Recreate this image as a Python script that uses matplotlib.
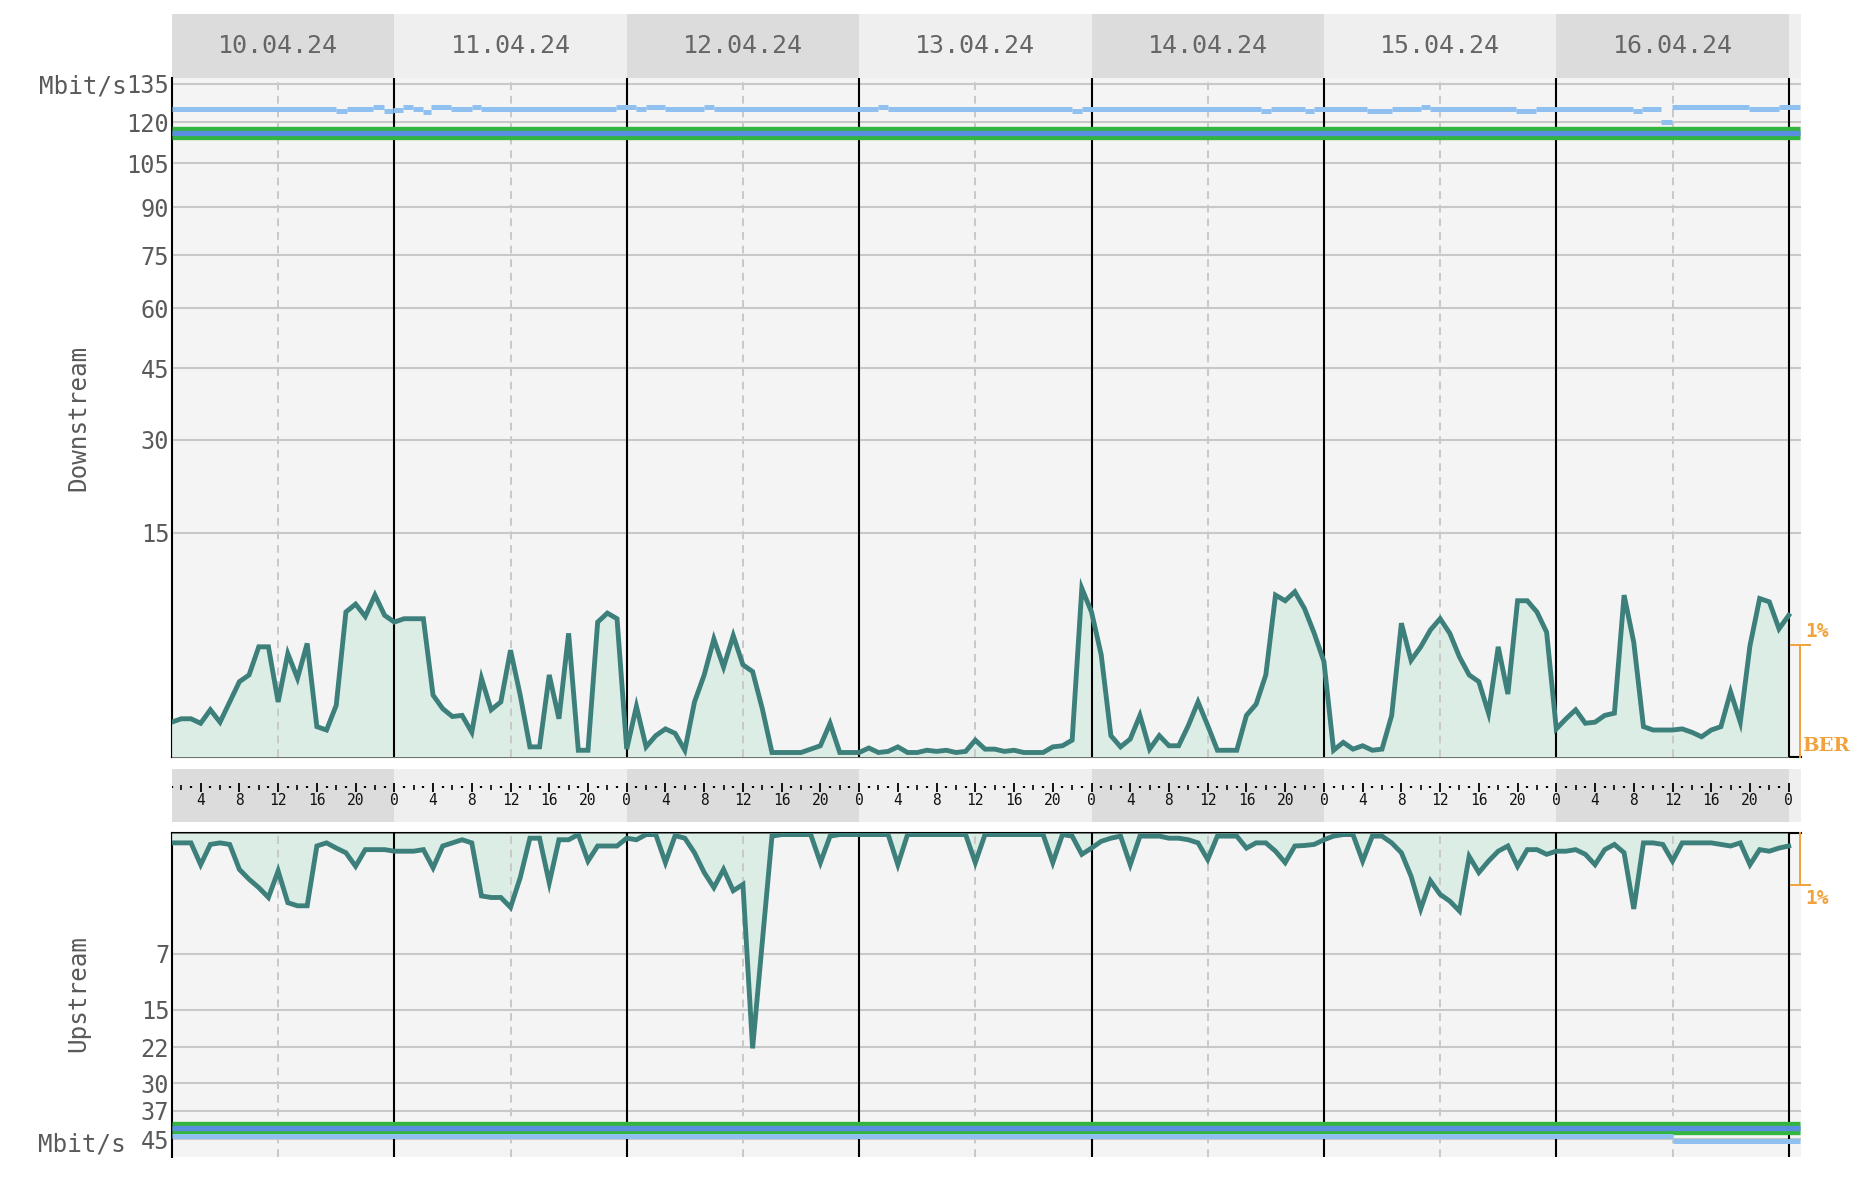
import numpy as np
import matplotlib
matplotlib.use("Agg")
import matplotlib.pyplot as plt
from matplotlib.transforms import blended_transform_factory

plt.rcParams['font.family'] = ['DejaVu Sans Mono']

# --- data --------------------------------------------------------------
days = ["10.04.24", "11.04.24", "12.04.24", "13.04.24", "14.04.24", "15.04.24", "16.04.24"]
hours = np.arange(1, 169)          # hourly samples, hour 0 = 10.04. 00:00

# downstream BER in % (one value per hour)
dn_ber_10 = [0.31, 0.34, 0.34, 0.30, 0.42, 0.31, 0.49, 0.67, 0.73, 0.98, 0.98, 0.49,
             0.92, 0.70, 1.01, 0.27, 0.24, 0.46, 1.29, 1.36, 1.25, 1.44, 1.26, 1.20]
dn_ber_11 = [1.23, 1.23, 1.23, 0.55, 0.43, 0.36, 0.37, 0.22, 0.70, 0.42, 0.49, 0.95,
             0.55, 0.09, 0.09, 0.73, 0.34, 1.10, 0.06, 0.06, 1.20, 1.28, 1.23, 0.07]
dn_ber_12 = [0.45, 0.09, 0.19, 0.25, 0.21, 0.06, 0.49, 0.73, 1.05, 0.80, 1.08, 0.82,
             0.76, 0.43, 0.04, 0.04, 0.04, 0.04, 0.07, 0.10, 0.30, 0.04, 0.04, 0.04]
dn_ber_13 = [0.08, 0.04, 0.05, 0.09, 0.04, 0.04, 0.06, 0.05, 0.06, 0.04, 0.05, 0.15,
             0.07, 0.07, 0.05, 0.06, 0.04, 0.04, 0.04, 0.09, 0.10, 0.15, 1.50, 1.29]
dn_ber_14 = [0.91, 0.19, 0.09, 0.16, 0.37, 0.07, 0.19, 0.10, 0.10, 0.28, 0.49, 0.28,
             0.06, 0.06, 0.06, 0.37, 0.47, 0.73, 1.44, 1.39, 1.47, 1.32, 1.10, 0.85]
dn_ber_15 = [0.06, 0.13, 0.07, 0.10, 0.06, 0.07, 0.37, 1.19, 0.86, 0.98, 1.13, 1.23,
             1.10, 0.89, 0.73, 0.67, 0.39, 0.98, 0.56, 1.39, 1.39, 1.29, 1.11, 0.25]
dn_ber_16 = [0.34, 0.42, 0.30, 0.31, 0.37, 0.39, 1.44, 1.02, 0.27, 0.24, 0.24, 0.24,
             0.25, 0.22, 0.18, 0.24, 0.27, 0.58, 0.31, 0.99, 1.41, 1.38, 1.14, 1.26]

# upstream BER in %
up_ber_10 = [0.19, 0.19, 0.19, 0.61, 0.22, 0.19, 0.22, 0.70, 0.89, 1.05, 1.24, 0.73,
             1.34, 1.40, 1.40, 0.25, 0.19, 0.29, 0.38, 0.64, 0.32, 0.32, 0.32, 0.35]
up_ber_11 = [0.35, 0.35, 0.32, 0.67, 0.25, 0.19, 0.13, 0.19, 1.21, 1.24, 1.24, 1.43,
             0.86, 0.10, 0.10, 0.96, 0.13, 0.13, 0.03, 0.54, 0.25, 0.25, 0.25, 0.10]
up_ber_12 = [0.13, 0.03, 0.03, 0.57, 0.05, 0.10, 0.38, 0.76, 1.05, 0.70, 1.11, 0.99,
             4.14, 2.10, 0.06, 0.03, 0.03, 0.03, 0.03, 0.57, 0.06, 0.03, 0.03, 0.03]
up_ber_13 = [0.03, 0.03, 0.03, 0.61, 0.03, 0.03, 0.03, 0.03, 0.03, 0.03, 0.03, 0.57,
             0.03, 0.03, 0.03, 0.03, 0.03, 0.03, 0.03, 0.57, 0.03, 0.06, 0.41, 0.29]
up_ber_14 = [0.16, 0.10, 0.06, 0.61, 0.06, 0.06, 0.06, 0.10, 0.10, 0.13, 0.19, 0.51,
             0.06, 0.06, 0.06, 0.29, 0.19, 0.19, 0.35, 0.57, 0.25, 0.24, 0.22, 0.13]
up_ber_15 = [0.06, 0.03, 0.03, 0.54, 0.06, 0.06, 0.19, 0.38, 0.83, 1.46, 0.92, 1.18,
             1.31, 1.50, 0.45, 0.76, 0.54, 0.35, 0.25, 0.64, 0.32, 0.32, 0.41, 0.35]
up_ber_16 = [0.35, 0.32, 0.41, 0.61, 0.32, 0.22, 0.38, 1.46, 0.19, 0.19, 0.22, 0.54,
             0.19, 0.19, 0.19, 0.19, 0.22, 0.25, 0.19, 0.61, 0.32, 0.35, 0.29, 0.25]

dn_ber = dn_ber_10 + dn_ber_11 + dn_ber_12 + dn_ber_13 + dn_ber_14 + dn_ber_15 + dn_ber_16
up_ber = up_ber_10 + up_ber_11 + up_ber_12 + up_ber_13 + up_ber_14 + up_ber_15 + up_ber_16

# rates in Mbit/s
dn_ticks = [15, 30, 45, 60, 75, 90, 105, 120, 135]
up_ticks = [7, 15, 22, 30, 37, 45]
rate_span = [1.0, 169.2]
dn_max_rate = 115.9
dn_sync_rate = 115.9
up_max_rate = 41.8
up_sync_rate = 41.8
# attainable rate (step changes: hour, value)
dn_att_t = [1, 18, 19.1, 21.8, 22.9, 23.9, 24.9, 25.9, 27, 27.8, 29.9, 32, 33, 46.9, 49, 50,
            52, 56, 57, 74, 75, 94, 95, 113.5, 114.5, 118, 119, 124.5, 127, 130, 131,
            139.8, 141.9, 151.9, 152.9, 154.8, 155.9, 163.9, 167]
dn_att_v = [125.1, 124.1, 125.0, 126.0, 124.1, 124.5, 126.0, 125.1, 124.0, 126.0, 125.1,
            126.0, 125.1, 126.0, 125.0, 126.0, 125.1, 126.0, 125.1, 126.0, 125.1, 124.2,
            125.1, 124.2, 125.1, 124.2, 125.1, 124.2, 125.1, 126.0, 125.1, 124.2, 125.1,
            124.2, 125.1, 120.0, 126.0, 125.1, 126.0]
up_att_t = [1, 156.0]
up_att_v = [44.0, 45.4]

# --- layout ------------------------------------------------------------
W, H = 1870, 1186


def rect(x0, y0, x1, y1):
    return [x0 / W, 1 - y1 / H, (x1 - x0) / W, (y1 - y0) / H]


X0, X1 = 172, 1801
XLIM = (1.04, 169.27)
LINE = '#3d7f7b'
FILL = '#dcede5'
GRID = '#c8c8c8'
ORANGE = '#f2a23c'
ATT = '#90c0f0'
DARK, LIGHT = '#dcdcdc', '#efefef'
TXT = '#5a5a5a'
sqrt_fn = (lambda v: np.sqrt(np.clip(v, 0, None)), lambda v: np.square(v))

fig = plt.figure(figsize=(W / 100, H / 100), dpi=100)

# header with dates
ax_hd = fig.add_axes(rect(X0, 14, X1, 78))
ax_hd.set_xlim(XLIM)
ax_hd.set_ylim(0, 1)
for i, d in enumerate(days):
    ax_hd.axvspan(i * 24, (i + 1) * 24, color=DARK if i % 2 == 0 else LIGHT, lw=0)
    ax_hd.text(i * 24 + 12, 0.5, d, ha='center', va='center', fontsize=18, color='#666666')
ax_hd.axvspan(168, 200, color=LIGHT, lw=0)
ax_hd.axis('off')


def style_rate_axis(ax, ticks):
    ax.set_facecolor('#f4f4f4')
    ax.set_xlim(XLIM)
    ax.set_yscale('function', functions=sqrt_fn)
    ax.set_yticks(ticks)
    ax.set_yticklabels([str(t) for t in ticks])
    ax.set_xticks([])
    ax.tick_params(axis='y', length=0, pad=2, labelsize=17, labelcolor=TXT)
    ax.yaxis.grid(True, color=GRID, lw=1.5)
    ax.set_axisbelow(True)
    for s in ax.spines.values():
        s.set_visible(False)


def draw_days(ax):
    for i in range(1, 8):
        ax.axvline(i * 24, color='black', lw=1.5, zorder=2)
    for i in range(7):
        ax.axvline(i * 24 + 12, color=GRID, lw=1.4, ls=(0, (4, 3)), zorder=2)


def plain(ax):
    ax.set_xticks([])
    ax.set_yticks([])
    for s in ax.spines.values():
        s.set_visible(False)


def draw_attainable(ax, t, v):
    ends = t[1:] + [rate_span[1]]
    ax.hlines(v, t, ends, color=ATT, lw=3.6)


# downstream panel
ax_dn = fig.add_axes(rect(X0, 78, X1, 757))
style_rate_axis(ax_dn, dn_ticks)
ax_dn.set_ylim(0, 137.3)
for s in ('left', 'bottom'):
    ax_dn.spines[s].set_visible(True)
    ax_dn.spines[s].set_color('black')
    ax_dn.spines[s].set_linewidth(1.5)

ax_dn_ber = ax_dn.twinx()
ax_dn_ber.set_ylim(0, 6.04)
ax_dn_ber.set_xlim(XLIM)
plain(ax_dn_ber)
ax_dn_ber.fill_between(hours, 0, dn_ber, color=FILL, lw=0, zorder=1)
draw_days(ax_dn_ber)
ax_dn_ber.plot(hours, dn_ber, color=LINE, lw=3.5, zorder=3, solid_joinstyle='miter')

ax_dn_rate = ax_dn.twinx()
ax_dn_rate.set_yscale('function', functions=sqrt_fn)
ax_dn_rate.set_ylim(0, 137.3)
ax_dn_rate.set_xlim(XLIM)
plain(ax_dn_rate)
ax_dn_rate.plot(rate_span, [dn_max_rate] * 2, color='#33b540', lw=9.6, solid_capstyle='butt')
ax_dn_rate.plot(rate_span, [dn_sync_rate] * 2, color='#5a8ee0', lw=3.8, solid_capstyle='butt')
draw_attainable(ax_dn_rate, dn_att_t, dn_att_v)

# BER bracket downstream
tr = blended_transform_factory(ax_dn_ber.transAxes, ax_dn_ber.transData)
ax_dn_ber.plot([0.9994, 0.9994], [0, 1], color=ORANGE, lw=1.4, transform=tr, clip_on=False)
ax_dn_ber.plot([0.9937, 1.0055], [1, 1], color=ORANGE, lw=1.4, transform=tr, clip_on=False)
ax_dn_ber.text(1.0025, 1.12, '1%', transform=tr, color=ORANGE, fontsize=14,
               ha='left', va='center', fontweight='bold')
ax_dn_ber.text(1.0005, 0.10, 'BER', transform=tr, color=ORANGE, fontsize=14,
               ha='left', va='center', fontweight='bold', family='DejaVu Serif')

# hour strip
ax_hr = fig.add_axes(rect(X0, 769, X1, 822))
ax_hr.set_xlim(XLIM)
ax_hr.set_ylim(0, 1)
for i in range(7):
    ax_hr.axvspan(i * 24, (i + 1) * 24, color=DARK if i % 2 == 0 else LIGHT, lw=0)
ax_hr.axvspan(168, 200, color=LIGHT, lw=0)
for h in range(1, 169):
    if h % 4 == 0:
        ax_hr.vlines(h, 0.566, 0.736, color='black', lw=1.3)
        ax_hr.text(h, 0.40, str(h % 24), ha='center', va='center', fontsize=10.5,
                   color='#111111')
    elif h % 2 == 0:
        ax_hr.vlines(h, 0.604, 0.698, color='black', lw=1.2)
    else:
        ax_hr.vlines(h, 0.635, 0.675, color='black', lw=1.6)
ax_hr.axis('off')

# upstream panel
ax_up = fig.add_axes(rect(X0, 833, X1, 1157))
style_rate_axis(ax_up, up_ticks)
ax_up.set_ylim(50.3, 0)
for s in ('left', 'top'):
    ax_up.spines[s].set_visible(True)
    ax_up.spines[s].set_color('black')
    ax_up.spines[s].set_linewidth(1.5)

ax_up_ber = ax_up.twinx()
ax_up_ber.set_ylim(6.23, 0)
ax_up_ber.set_xlim(XLIM)
plain(ax_up_ber)
ax_up_ber.fill_between(hours, 0, up_ber, color=FILL, lw=0, zorder=1)
draw_days(ax_up_ber)
ax_up_ber.plot(hours, up_ber, color=LINE, lw=3.5, zorder=3, solid_joinstyle='miter')

ax_up_rate = ax_up.twinx()
ax_up_rate.set_yscale('function', functions=sqrt_fn)
ax_up_rate.set_ylim(50.3, 0)
ax_up_rate.set_xlim(XLIM)
plain(ax_up_rate)
ax_up_rate.plot(rate_span, [up_max_rate] * 2, color='#33b540', lw=9.6, solid_capstyle='butt')
ax_up_rate.plot(rate_span, [up_sync_rate] * 2, color='#5a8ee0', lw=3.8, solid_capstyle='butt')
draw_attainable(ax_up_rate, up_att_t, up_att_v)

tr = blended_transform_factory(ax_up_ber.transAxes, ax_up_ber.transData)
ax_up_ber.plot([0.9994, 0.9994], [0, 1], color=ORANGE, lw=1.4, transform=tr, clip_on=False)
ax_up_ber.plot([0.9937, 1.0055], [1, 1], color=ORANGE, lw=1.4, transform=tr, clip_on=False)
ax_up_ber.text(1.0025, 1.25, '1%', transform=tr, color=ORANGE, fontsize=14,
               ha='left', va='center', fontweight='bold')

# axis captions
fig.text(127 / W, 1 - 86 / H, 'Mbit/s', ha='right', va='center', fontsize=17.5, color=TXT)
fig.text(126 / W, 1 - 1144 / H, 'Mbit/s', ha='right', va='center', fontsize=17.5, color=TXT)
fig.text(78 / W, 1 - 418 / H, 'Downstream', rotation=90, ha='center', va='center',
         fontsize=17.5, color=TXT)
fig.text(78 / W, 1 - 994 / H, 'Upstream', rotation=90, ha='center', va='center',
         fontsize=17.5, color=TXT)

fig.savefig('out.png', dpi=100, facecolor='white')
